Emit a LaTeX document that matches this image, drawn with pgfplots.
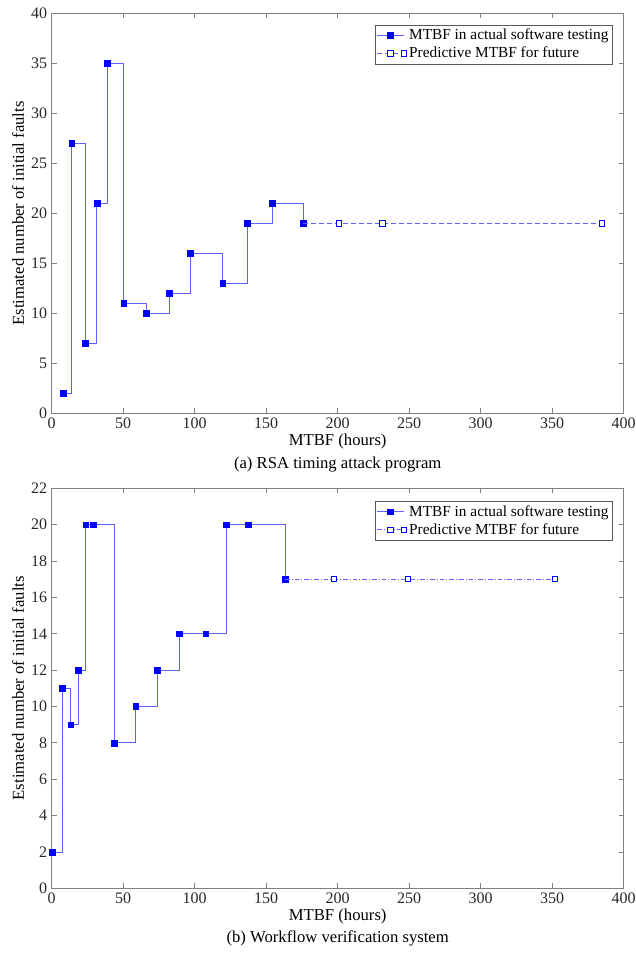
\documentclass[border=0pt]{standalone}
\usepackage{pgfplots}
\pgfplotsset{compat=1.18}
\usepackage{fontspec}
\setmainfont{Liberation Serif}
\definecolor{ln}{RGB}{95,95,250}
\definecolor{mk}{RGB}{0,0,255}
\pgfplotsset{
  myaxis/.style={
    scale only axis, width=429pt, height=300pt,
    xmin=0, xmax=400, xtick={0,50,...,400},
    clip mode=individual,
    /pgf/number format/assume math mode=true,
    xticklabel={\pgfmathprintnumber{\tick}},
    yticklabel={\pgfmathprintnumber{\tick}},
    font=\fontsize{12.5}{15}\selectfont,
    tick label style={font=\fontsize{12}{14}\selectfont, text=black!85},
    axis line style={draw=black!50},
    tick style={draw=black!50, line width=0.5pt},
    major tick length=3.75pt,
    tick align=inside,
    xlabel={MTBF (hours)},
    ylabel={Estimated number of initial faults},
    every axis y label/.style={at={(axis description cs:-0.059,0.5)}, rotate=90, anchor=center},
    every axis x label/.style={at={(axis description cs:0.5,-0.07)}, anchor=center},
    legend cell align=left,
    legend style={draw=black!65, fill=white, font=\fontsize{11.5}{13.8}\selectfont,
      inner xsep=1pt, inner ysep=1pt, row sep=0pt, anchor=north east},
    legend image code/.code={\draw[mark repeat=2,mark phase=2,##1] plot coordinates {(0cm,0cm) (0.35cm,0cm) (0.7cm,0cm)};},
  },
  actual/.style={const plot, color=ln, line width=0.6pt, mark=square*,
    mark size=2.2pt, mark options={solid, draw=mk, fill=mk, line width=0.3pt}},
  pred/.style={color=ln, line width=0.6pt, mark=square*, mark size=2pt,
    mark options={solid, draw=mk, fill=white, line width=0.6pt}},
}
\begin{document}
\begin{tikzpicture}
\path[use as bounding box] (-38.8pt,-406.3pt) rectangle (438.2pt,310pt);
\begin{axis}[myaxis, at={(0,0)}, anchor=south west,
  ymin=0, ymax=40, ytick={0,5,...,40},
  legend style={at={(axis description cs:0.9808,0.9715)}}]
\addplot[actual] coordinates {
(8.1,2) (14.0,27) (23.5,7) (31.5,21) (38.9,35) (50.3,11) (65.9,10)
(82.2,12) (96.9,16) (119.6,13) (136.6,19) (154.0,21) (175.9,19)};
\addlegendentry{MTBF in actual software testing}
\addplot[pred, dash pattern=on 3.75pt off 2.25pt, mark indices={2,3,4}] coordinates {
(175.9,19) (200.9,19) (231.2,19) (384.8,19)};
\addlegendentry{Predictive MTBF for future}
\node at (axis description cs:0.5,-0.128) {(a) RSA timing attack program};
\end{axis}
\begin{axis}[myaxis, at={(0,-356.25pt)}, anchor=south west,
  ymin=0, ymax=22, ytick={0,2,...,22},
  legend style={at={(axis description cs:0.9808,0.968)}}]
\addplot[actual] coordinates {
(0.4,2) (7.4,11) (13.3,9) (18.6,12) (23.8,20) (28.7,20) (43.8,8)
(58.7,10) (73.8,12) (89.2,14) (107.7,14) (121.9,20) (137.5,20) (163.1,17)};
\addlegendentry{MTBF in actual software testing}
\addplot[pred, dash pattern=on 3.5pt off 1.5pt on 0.75pt off 1.5pt, mark indices={2,3,4}] coordinates {
(163.1,17) (197.3,17) (249,17) (351.7,17)};
\addlegendentry{Predictive MTBF for future}
\node at (axis description cs:0.5,-0.125) {(b) Workflow verification system};
\end{axis}
\end{tikzpicture}
\end{document}
